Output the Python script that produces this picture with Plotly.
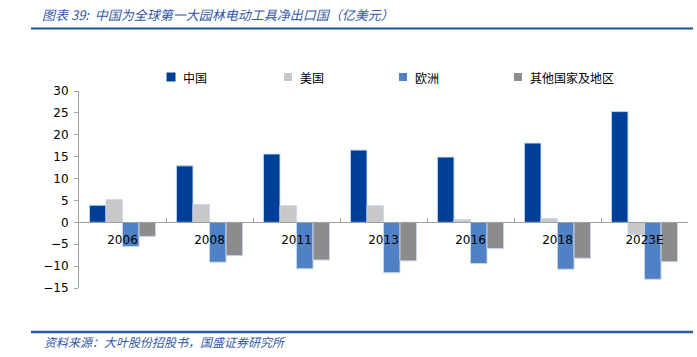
import plotly.graph_objects as go

categories = ["2006", "2008", "2011", "2013", "2016", "2018", "2023E"]
series_names = ["中国", "美国", "欧洲", "其他国家及地区"]
china = [3.9, 12.9, 15.6, 16.5, 14.9, 18.1, 25.3]
usa = [5.2, 4.1, 3.8, 3.8, 0.6, 0.9, -2.8]
europe = [-5.5, -9.1, -10.6, -11.5, -9.4, -10.7, -13.0]
others = [-3.2, -7.6, -8.6, -8.8, -6.0, -8.2, -9.0]
series_values = [china, usa, europe, others]
colors = ["#003F98", "#C8C8C8", "#4F81C4", "#8C8C8C"]

title_text = "<i>图表 39:  中国为全球第一大园林电动工具净出口国（亿美元）</i>"
source_text = "<i>资料来源：大叶股份招股书，国盛证券研究所</i>"
y_ticks = [-15, -10, -5, 0, 5, 10, 15, 20, 25, 30]

W, H = 697, 357
L, R, T, B = 79, 9, 91, 69
PW, PH = W - L - R, H - T - B


def px(x):
    return (x - L) / PW


def py(y):
    return (H - B - y) / PH


fig = go.Figure()
for name, vals, col in zip(series_names, series_values, colors):
    fig.add_trace(go.Bar(
        x=categories, y=vals, name=name,
        marker=dict(color=col, line=dict(color="rgba(200,215,240,0.9)", width=1)),
        showlegend=False,
    ))

shapes = []
annotations = []
shapes.append(dict(type="line", xref="paper", yref="paper", x0=px(31), x1=px(693),
                   y0=py(28.5), y1=py(28.5), line=dict(color="#1E4FA0", width=2)))
shapes.append(dict(type="line", xref="paper", yref="paper", x0=px(31), x1=px(693),
                   y0=py(332), y1=py(332), line=dict(color="#2A5A9E", width=2.5)))
annotations.append(dict(text=title_text, xref="paper", yref="paper", x=px(40), y=py(14),
                        xanchor="left", yanchor="middle", showarrow=False,
                        font=dict(family="Noto Sans CJK SC", size=13, color="#3358A8")))
annotations.append(dict(text=source_text, xref="paper", yref="paper", x=px(42), y=py(341),
                        xanchor="left", yanchor="middle", showarrow=False,
                        font=dict(family="Noto Sans CJK SC", size=12, color="#3358A8")))

leg_x = [171, 288, 403, 518]
for name, col, lx in zip(series_names, colors, leg_x):
    s = 4.5 if col == "#003F98" else 4
    shapes.append(dict(type="rect", xref="paper", yref="paper",
                       x0=px(lx - s), x1=px(lx + s), y0=py(77 + s), y1=py(77 - s),
                       fillcolor=col, line=dict(width=0)))
    annotations.append(dict(text=name, xref="paper", yref="paper", x=px(lx + 10), y=py(77),
                            xanchor="left", yanchor="middle", showarrow=False,
                            font=dict(family="Noto Sans CJK SC", size=12, color="#000000")))

fig.update_layout(
    width=W, height=H,
    margin=dict(l=L, r=R, t=T, b=B, autoexpand=False),
    paper_bgcolor="white", plot_bgcolor="white",
    barmode="group", bargap=0.24, bargroupgap=0,
    showlegend=False,
    shapes=shapes, annotations=annotations,
    font=dict(family="DejaVu Sans", size=12, color="#000000"),
    xaxis=dict(type="category", range=[-0.5, 6.5], anchor="free", position=15 / 45,
               showline=True, linecolor="#A0A0A0", linewidth=1,
               ticks="inside", tickson="boundaries", ticklen=4, tickcolor="#A0A0A0",
               ticklabelstandoff=6,
               showgrid=False, zeroline=False,
               tickfont=dict(family="DejaVu Sans", size=12, color="#000000")),
    yaxis=dict(range=[-15, 30], tickvals=y_ticks, showgrid=False, zeroline=False,
               showline=True, linecolor="#A0A0A0", linewidth=1,
               ticks="outside", ticklen=4, tickcolor="#A0A0A0",
               ticklabelstandoff=3,
               tickfont=dict(family="DejaVu Sans", size=12, color="#000000")),
)

fig.write_html("out.html",
               config={"displayModeBar": False},
               post_script="document.body.style.margin='0';document.body.style.overflow='hidden';")
